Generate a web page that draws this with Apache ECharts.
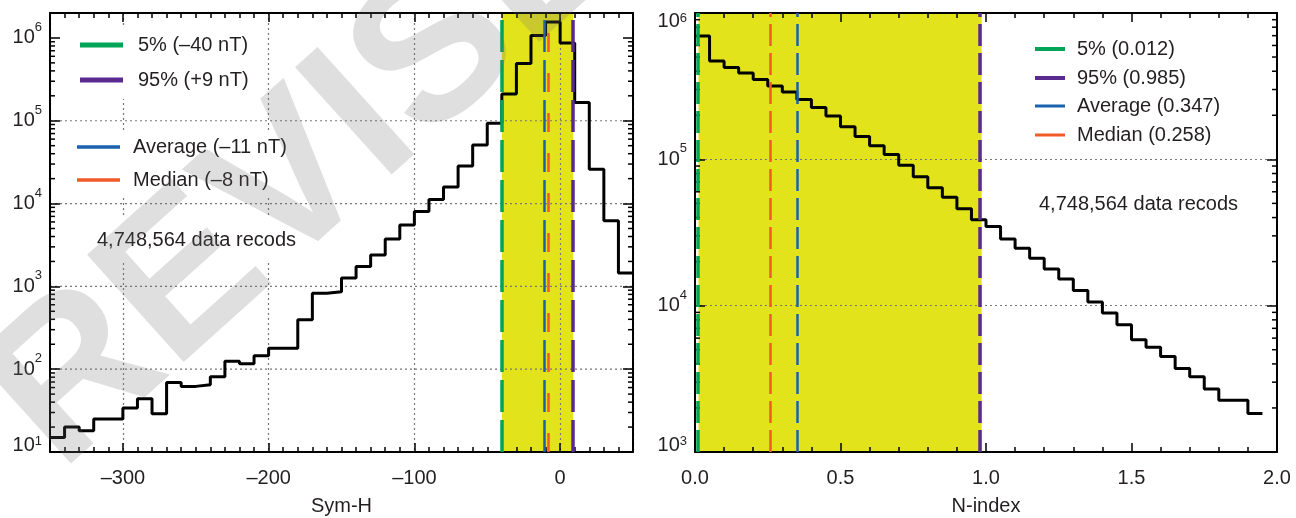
<!DOCTYPE html>
<html>
<head>
<meta charset="utf-8">
<script src="https://cdn.jsdelivr.net/npm/echarts@6/dist/echarts.min.js"></script>
<style>
html, body { margin: 0; padding: 0; background: #fff; }
#chart { width: 1296px; height: 518px; }
</style>
</head>
<body>
<div id="chart"></div>
<script>
// ---------------- data ----------------
// Left panel: Sym-H histogram, 10 nT bins starting at -350 nT
const symhBinStart = -350;
const symhBinWidth = 10;
const symhCounts = [15, 20, 18, 25, 25, 34, 44, 29, 69, 62,
                    65, 81, 125, 116, 145, 179, 179, 395, 825, 860,
                    1260, 1740, 2400, 3720, 5500, 8000, 11200, 15900, 28500, 51000,
                    93000, 210000, 490000, 1070000, 1560000, 870000, 166000, 26000, 6200, 1450];
const symhP5 = -40;
const symhP95 = 9;
const symhMean = -11;
const symhMedian = -8;
const symhLabels = ['5% (–40 nT)', '95% (+9 nT)', 'Average (–11 nT)', 'Median (–8 nT)'];
const symhGridTicks = [1e2, 1e3, 1e4, 1e5];

// Right panel: N-index histogram, 0.05 bins starting at 0
const nBinStart = 0;
const nBinWidth = 0.05;
const nCounts = [697000, 470000, 424000, 389000, 351000, 317000, 289000, 256000, 226000, 198000,
                 167000, 143000, 124000, 108000, 91000, 76000, 64000, 55000, 46000, 38600,
                 34700, 28500, 24700, 21100, 17800, 15200, 12700, 10600, 8900, 7400,
                 5860, 5200, 4500, 3720, 3270, 2700, 2260, 2260, 1830];
const nP5 = 0.012;
const nP95 = 0.985;
const nMean = 0.347;
const nMedian = 0.258;
const nLabels = ['5% (0.012)', '95% (0.985)', 'Average (0.347)', 'Median (0.258)'];

const recordsNote = '4,748,564 data recods';
const axisNames = ['Sym-H', 'N-index'];
const watermarkText = 'REVISED';

// axis ranges
const symhRange = [-350, 50];
const symhCountRange = [10, 2e6];
const nRange = [0, 2];
const nCountRange = [1e3, 1e6];

// ---------------- style ----------------
const FONT = "'Liberation Sans', Arial, Helvetica, sans-serif";
const INK = '#231f20';
const C_P5 = '#00a457';
const C_P95 = '#5b2a8e';
const C_MEAN = '#1a62ad';
const C_MED = '#f15a29';
const C_BAND = '#e3e31c';

function histData(start, width, counts) {
  const pts = counts.map((c, i) => [start + i * width, c]);
  pts.push([start + counts.length * width, counts[counts.length - 1]]);
  return pts;
}
function logMinorTicks(min, max) {
  const out = [];
  for (let e = Math.floor(Math.log10(min)); e <= Math.ceil(Math.log10(max)); e++) {
    for (let m = 2; m <= 9; m++) {
      const v = m * Math.pow(10, e);
      if (v > min && v < max) out.push(v);
    }
  }
  return out;
}
function sameVal(a, b) { return Math.abs(Math.log10(a) - Math.log10(b)) < 1e-6; }
function powFormatter(range) {
  return function (v) {
    const e = Math.log10(v);
    const r = Math.round(e);
    if (Math.abs(e - r) > 1e-6) return '';
    if (sameVal(v, range[1])) return '{bd|10}{sd|' + r + '}';
    if (sameVal(v, range[0])) return '{bu|10}{su|' + r + '}';
    return '{b|10}{s|' + r + '}';
  };
}
const baseB = { fontSize: 20, fontFamily: FONT, color: INK, lineHeight: 34 };
const baseS = { fontSize: 13, fontFamily: FONT, color: INK, verticalAlign: 'top', lineHeight: 14 };
const powRich = {
  b: baseB, s: baseS,
  bd: Object.assign({}, baseB, { padding: [16, 0, 0, 0] }),
  sd: Object.assign({}, baseS, { padding: [16, 0, 0, 0] }),
  bu: Object.assign({}, baseB, { padding: [0, 0, 14, 0] }),
  su: Object.assign({}, baseS, { padding: [0, 0, 0, 0] })
};
const gridLine = { show: true, lineStyle: { color: '#777', width: 1.2, type: [2, 3] } };
const borderLine = { show: true, onZero: false, lineStyle: { color: '#000', width: 2 } };
const majorTick = { show: true, inside: true, length: 9, lineStyle: { color: '#000', width: 1.5 } };
const minorTickAx = { show: true, inside: true, length: 5, lineStyle: { color: '#000', width: 1.5 } };

function mainX(grid, range, fmt, name, interval, split) {
  const ax = {
    gridIndex: grid, type: 'value', min: range[0], max: range[1], position: 'bottom',
    axisLine: borderLine, axisTick: majorTick,
    axisLabel: { formatter: fmt, fontSize: 20, fontFamily: FONT, color: INK, margin: 16 },
    splitLine: split ? gridLine : { show: false },
    name: name, nameLocation: 'middle', nameGap: 44,
    nameTextStyle: { fontSize: 20, fontFamily: FONT, color: INK }
  };
  if (interval) ax.interval = interval;
  return ax;
}
function plainX(grid, range, pos, interval, tick, line) {
  const ax = {
    gridIndex: grid, type: 'value', min: range[0], max: range[1], position: pos,
    axisLine: line ? borderLine : { show: false }, axisTick: tick,
    axisLabel: { show: false }, splitLine: { show: false }
  };
  if (interval) ax.interval = interval;
  return ax;
}
function mainY(grid, range, split) {
  return {
    gridIndex: grid, type: 'log', min: range[0], max: range[1], position: 'left',
    axisLine: borderLine, axisTick: Object.assign({}, majorTick, { length: 10 }),
    axisLabel: { formatter: powFormatter(range), rich: powRich, margin: 8 },
    splitLine: split ? gridLine : { show: false }
  };
}
function mirrorY(grid, range) {
  return {
    gridIndex: grid, type: 'log', min: range[0], max: range[1], position: 'right',
    axisLine: borderLine, axisTick: Object.assign({}, majorTick, { length: 10 }),
    axisLabel: { show: false }, splitLine: { show: false }
  };
}

function bandSeries(xi, yi, lo, hi, ymin) {
  return {
    type: 'custom', xAxisIndex: xi, yAxisIndex: yi, z: -1, silent: true,
    encode: { x: [0, 1], y: 2 },
    data: [[lo, hi, ymin]],
    renderItem: function (params, api) {
      const cs = params.coordSys;
      const x0 = api.coord([api.value(0), api.value(2)])[0];
      const x1 = api.coord([api.value(1), api.value(2)])[0];
      return { type: 'rect', shape: { x: x0, y: cs.y, width: x1 - x0, height: cs.height },
               style: { fill: C_BAND } };
    }
  };
}
function hGridSeries(xi, yi, xmin, values) {
  return {
    type: 'custom', xAxisIndex: xi, yAxisIndex: yi, z: -0.5, silent: true,
    data: values.map(v => [xmin, v]),
    renderItem: function (params, api) {
      const cs = params.coordSys;
      const y = api.coord([api.value(0), api.value(1)])[1];
      return { type: 'line', shape: { x1: cs.x, y1: y, x2: cs.x + cs.width, y2: y },
               style: { stroke: '#777', lineWidth: 1.2, lineDash: [2, 3] } };
    }
  };
}
function statSeries(xi, yi, name, value, color, width, dash) {
  return {
    type: 'line', name: name, xAxisIndex: xi, yAxisIndex: yi, data: [], z: 2,
    color: color, itemStyle: { color: color, borderWidth: 0 }, lineStyle: { color: color },
    symbol: 'none',
    markLine: {
      silent: true, symbol: ['none', 'none'], animation: false,
      label: { show: false }, emphasis: { disabled: true },
      lineStyle: { color: color, width: width, type: dash, opacity: 1 },
      data: [{ xAxis: value }]
    }
  };
}
function histSeries(xi, yi, start, width, counts) {
  return {
    type: 'line', xAxisIndex: xi, yAxisIndex: yi, step: 'end', z: 3,
    data: histData(start, width, counts), symbol: 'none', silent: true,
    lineStyle: { color: '#000', width: 3 }
  };
}
function minorTickSeries(xi, yi, xmin, range) {
  return {
    type: 'custom', xAxisIndex: xi, yAxisIndex: yi, silent: true, z: 4,
    data: logMinorTicks(range[0], range[1]).map(v => [xmin, v]),
    renderItem: function (params, api) {
      const cs = params.coordSys;
      const y = api.coord([api.value(0), api.value(1)])[1];
      const st = { stroke: '#000', lineWidth: 1.5 };
      return { type: 'group', children: [
        { type: 'line', shape: { x1: cs.x, y1: y, x2: cs.x + 5, y2: y }, style: st },
        { type: 'line', shape: { x1: cs.x + cs.width - 5, y1: y, x2: cs.x + cs.width, y2: y }, style: st }
      ] };
    }
  };
}
function legendBox(names, colors, left, top, iconW, iconH, gap, pad, textPad, bg) {
  return {
    orient: 'vertical', left: left, top: top, itemWidth: iconW, itemHeight: iconH, itemGap: gap,
    padding: pad, backgroundColor: bg || 'transparent', selectedMode: false,
    icon: 'rect', itemStyle: { borderWidth: 0 },
    textStyle: { fontSize: 20, fontFamily: FONT, color: INK, lineHeight: 22, padding: [0, 0, 0, textPad] },
    data: names.map((n, i) => ({ name: n, icon: 'rect', itemStyle: { color: colors[i], borderWidth: 0 } }))
  };
}

const symhFmt = v => (Math.abs(v % 100) < 1e-9 ? String(v).replace('-', '–') : '');
const nFmt = v => v.toFixed(1);

const option = {
  animation: false,
  backgroundColor: '#fff',
  grid: [
    { left: 50, top: 13, width: 583, height: 439, containLabel: false, outerBoundsMode: 'none' },
    { left: 695, top: 13, width: 582, height: 439, containLabel: false, outerBoundsMode: 'none' }
  ],
  xAxis: [
    mainX(0, symhRange, symhFmt, axisNames[0], null, true),
    plainX(0, symhRange, 'bottom', 10, minorTickAx, false),
    plainX(0, symhRange, 'top', null, majorTick, true),
    plainX(0, symhRange, 'top', 10, minorTickAx, false),
    mainX(1, nRange, nFmt, axisNames[1], 0.5, false),
    plainX(1, nRange, 'bottom', 0.1, minorTickAx, false),
    plainX(1, nRange, 'top', 0.5, majorTick, true),
    plainX(1, nRange, 'top', 0.1, minorTickAx, false)
  ],
  yAxis: [
    mainY(0, symhCountRange, false),
    mirrorY(0, symhCountRange),
    mainY(1, nCountRange, true),
    mirrorY(1, nCountRange)
  ],
  legend: [
    legendBox(symhLabels.slice(0, 2), [C_P5, C_P95], 66, 26, 43, 5, 13, [8, 14], 10, '#fff'),
    legendBox(symhLabels.slice(2, 4), [C_MEAN, C_MED], 63, 132, 43, 3.5, 11, [4, 14], 8, '#fff'),
    legendBox(nLabels.slice(0, 2), [C_P5, C_P95], 1021, 34, 30, 4, 7, [4, 14], 7),
    legendBox(nLabels.slice(2, 4), [C_MEAN, C_MED], 1021, 91, 30, 3, 7, [4, 14], 7)
  ],
  series: [
    bandSeries(0, 0, symhP5, symhP95, symhCountRange[0]),
    hGridSeries(0, 0, symhRange[0], symhGridTicks),
    statSeries(0, 0, symhLabels[0], symhP5, C_P5, 3.5, [32, 8]),
    statSeries(0, 0, symhLabels[1], symhP95, C_P95, 3.5, [32, 8]),
    statSeries(0, 0, symhLabels[2], symhMean, C_MEAN, 2.5, [32, 8]),
    statSeries(0, 0, symhLabels[3], symhMedian, C_MED, 2.5, [19, 21]),
    histSeries(0, 0, symhBinStart, symhBinWidth, symhCounts),
    minorTickSeries(0, 0, symhRange[0], symhCountRange),

    bandSeries(4, 2, nP5, nP95, nCountRange[0]),
    statSeries(4, 2, nLabels[0], nP5, C_P5, 3.5, [22, 7]),
    statSeries(4, 2, nLabels[1], nP95, C_P95, 3.5, [22, 7]),
    statSeries(4, 2, nLabels[2], nMean, C_MEAN, 2.5, [22, 7]),
    statSeries(4, 2, nLabels[3], nMedian, C_MED, 2.5, [22, 7]),
    histSeries(4, 2, nBinStart, nBinWidth, nCounts),
    minorTickSeries(4, 2, nRange[0], nCountRange)
  ],
  graphic: [
    { type: 'text', x: 83, y: 240, z: 50, silent: true,
      style: { text: recordsNote, fontSize: 20, fontFamily: FONT, fill: INK,
               align: 'left', verticalAlign: 'middle', backgroundColor: '#fff', padding: [13, 14] } },
    { type: 'text', x: 1039, y: 204, z: 50, silent: true,
      style: { text: recordsNote, fontSize: 20, fontFamily: FONT, fill: INK,
               align: 'left', verticalAlign: 'middle' } },
    { type: 'text', x: 92, y: 508, rotation: 42 * Math.PI / 180, z: 100, silent: true,
      style: { text: watermarkText, fontSize: 210, fontWeight: 'bold', fontFamily: FONT,
               fill: 'rgba(110,110,110,0.22)', align: 'left', verticalAlign: 'bottom' } }
  ]
};

const chart = echarts.init(document.getElementById('chart'), null, { renderer: 'canvas' });
chart.setOption(option);
</script>
</body>
</html>
